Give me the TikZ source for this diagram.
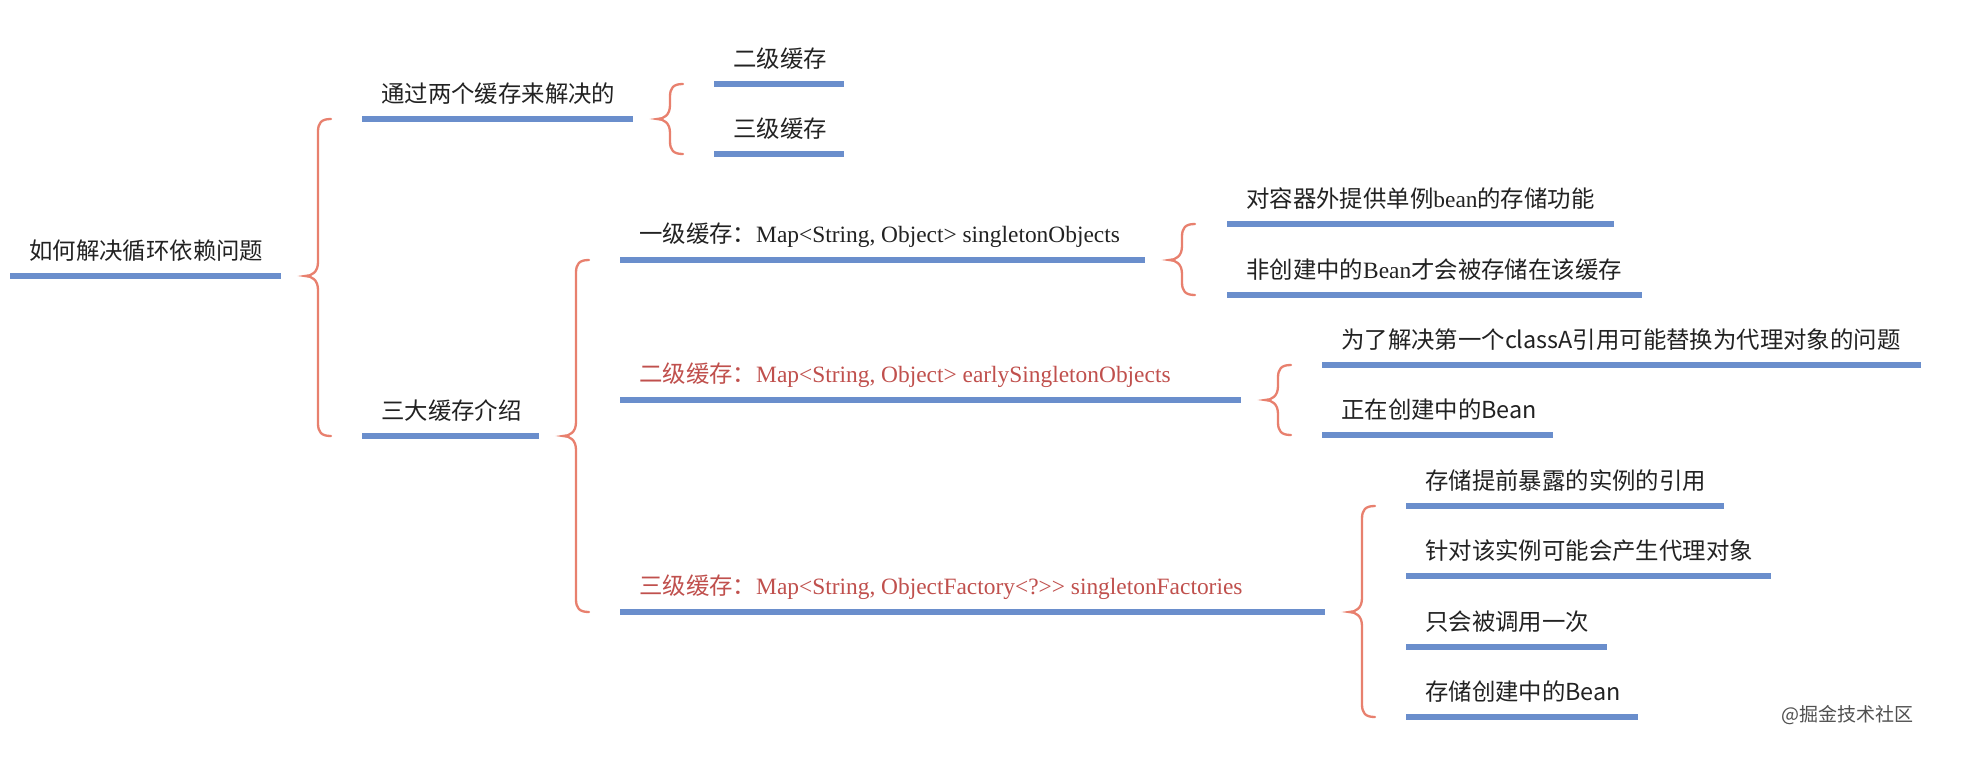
\documentclass[tikz,border=0pt]{standalone}
\usepackage{fontspec}
\setmainfont{Liberation Serif}
\newfontfamily\cjk{Noto Sans CJK SC}
\usetikzlibrary{calc}
\definecolor{ublue}{RGB}{106,142,204}
\definecolor{bracec}{RGB}{232,128,110}
\definecolor{redtxt}{RGB}{192,80,77}
\definecolor{txt}{RGB}{34,34,34}
\definecolor{wm}{RGB}{80,80,80}
\tikzset{
  uline/.style={draw=ublue, line width=5.5pt},
  brc/.style={draw=bracec, line width=2.3pt, line cap=round},
  lbl/.style={anchor=west, inner sep=0pt, text=txt, font=\cjk\fontsize{23.4}{24}\selectfont},
  redlbl/.style={lbl, text=redtxt},
}
% item: name, x-left, x-right, y(line), style, text
\newcommand\mitem[6]{%
  \coordinate (#1-l) at (#2,#4);
  \coordinate (#1-r) at (#3,#4);
  \draw[uline] (#1-l) -- (#1-r);
  \node[#5] (#1) at (#2+19,#4-25) {#6};
}
% brace: parent, top child, bottom child
\newcommand\mbrace[3]{%
  \draw[brc] let \p1=(#1-r), \p2=(#2-l), \p3=(#3-l) in
    (\x1+50pt,\y2) .. controls (\x1+40pt,\y2) and (\x1+37pt,\y2-4pt) .. (\x1+37pt,\y2-13pt)
    -- (\x1+37pt,\y1+14pt) .. controls (\x1+37pt,\y1+4pt) and (\x1+31pt,\y1) .. (\x1+24pt,\y1)
    .. controls (\x1+31pt,\y1) and (\x1+37pt,\y1-4pt) .. (\x1+37pt,\y1-14pt)
    -- (\x1+37pt,\y3+13pt) .. controls (\x1+37pt,\y3+4pt) and (\x1+40pt,\y3) .. (\x1+50pt,\y3);
}
\newcommand\sr{\rmfamily}
\begin{document}
\begin{tikzpicture}[x=1pt,y=-1pt]
\useasboundingbox[fill=white] (0,0) rectangle (1968,760);
% level 0
\mitem{root}{10}{281}{276}{lbl}{如何解决循环依赖问题}
% level 1
\mitem{tong}{362}{633}{119}{lbl}{通过两个缓存来解决的}
\mitem{san}{362}{539}{436}{lbl}{三大缓存介绍}
% level 2 under tong
\mitem{erj}{714}{844}{84}{lbl}{二级缓存}
\mitem{sanj}{714}{844}{154}{lbl}{三级缓存}
% level 2 under san
\mitem{c1}{620}{1145}{260}{lbl}{一级缓存：\sr Map<String, Object> singletonObjects}
\mitem{c2}{620}{1241}{400}{redlbl}{二级缓存：\sr Map<String, Object> earlySingletonObjects}
\mitem{c3}{620}{1325}{612}{redlbl}{三级缓存：\sr Map<String, ObjectFactory<?>{}> singletonFactories}
% leaves of c1
\mitem{a1}{1227}{1614}{224}{lbl}{对容器外提供单例{\sr bean}的存储功能}
\mitem{a2}{1227}{1642}{295}{lbl}{非创建中的{\sr Bean}才会被存储在该缓存}
% leaves of c2
\mitem{b1}{1322}{1921}{365}{lbl}{为了解决第一个classA引用可能替换为代理对象的问题}
\mitem{b2}{1322}{1553}{435}{lbl}{正在创建中的Bean}
% leaves of c3
\mitem{d1}{1406}{1724}{506}{lbl}{存储提前暴露的实例的引用}
\mitem{d2}{1406}{1771}{576}{lbl}{针对该实例可能会产生代理对象}
\mitem{d3}{1406}{1607}{647}{lbl}{只会被调用一次}
\mitem{d4}{1406}{1638}{717}{lbl}{存储创建中的Bean}
% braces
\mbrace{root}{tong}{san}
\mbrace{tong}{erj}{sanj}
\mbrace{san}{c1}{c3}
\mbrace{c1}{a1}{a2}
\mbrace{c2}{b1}{b2}
\mbrace{c3}{d1}{d4}
% watermark
\node[anchor=west, inner sep=0pt, text=wm, font=\cjk\fontsize{19}{20}\selectfont] (wmark) at (1781,715) {@掘金技术社区};
\end{tikzpicture}
\end{document}
